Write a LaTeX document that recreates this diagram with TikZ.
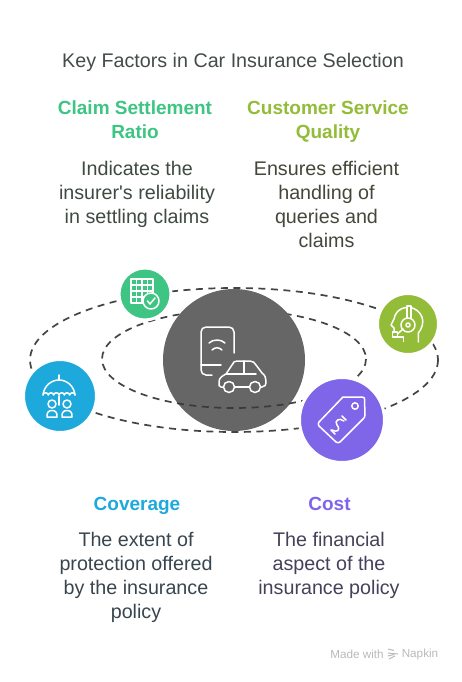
\documentclass[tikz,border=0pt]{standalone}
\usepackage{fontspec}
\setmainfont{Liberation Sans}
\definecolor{cgreen}{HTML}{3EC483}
\definecolor{colive}{HTML}{93BC39}
\definecolor{cblue}{HTML}{1EA9DC}
\definecolor{cpurple}{HTML}{7F66E8}
\definecolor{cdark}{HTML}{666666}
\definecolor{cdash}{HTML}{444444}
\definecolor{ctitle}{HTML}{444C48}
\newcommand{\fl}{\rule{0pt}{15pt}}
\tikzset{
  head/.style={font=\fontsize{19}{24}\selectfont\bfseries,align=center,inner sep=0pt,anchor=north},
  body/.style={font=\fontsize{19.7}{24}\selectfont,align=center,inner sep=0pt,anchor=north},
  orbit/.style={draw=cdash,line width=1.7pt,dash pattern=on 7pt off 5.5pt},
  disc/.style={circle,inner sep=0pt,outer sep=0pt,draw=white,line width=3pt},
  icon/.style={draw=white,line width=1.5pt,line cap=round,line join=round},
}
\begin{document}
\begin{tikzpicture}[x=1pt,y=-1pt]
\useasboundingbox (0,0) rectangle (462,682);
\fill[white] (0,0) rectangle (462,682);
\node[body,text=ctitle] (title) at (233,52) {\fl Key Factors in Car Insurance Selection};
\node[head,text=cgreen] (h1) at (135,99.5) {\fl Claim Settlement\\Ratio};
\node[head,text=colive] (h2) at (328,99.5) {\fl Customer Service\\Quality};
\node[head,text=cblue] (h3) at (137,495.5) {\fl Coverage};
\node[head,text=cpurple] (h4) at (329.5,495.5) {\fl Cost};
\node[body,text={rgb,255:red,63;green,75;blue,66}] (b1) at (137,160) {\fl Indicates the\\insurer\textquotesingle s reliability\\in settling claims};
\node[body,text={rgb,255:red,68;green,72;blue,58}] (b2) at (326.5,160) {\fl Ensures efficient\\handling of\\queries and\\claims};
\node[body,text={rgb,255:red,57;green,70;blue,80}] (b3) at (136,531.5) {\fl The extent of\\protection offered\\by the insurance\\policy};
\node[body,text={rgb,255:red,68;green,66;blue,90}] (b4) at (329,531.5) {\fl The financial\\aspect of the\\insurance policy};
% orbits
\draw[orbit] (234,360) ellipse [x radius=204,y radius=72];
\draw[orbit] (234,359) ellipse [x radius=132,y radius=49];
% centre
\node[circle,fill=cdark,minimum size=142pt,inner sep=0pt] (centre) at (234,360) {};
\begin{scope}
\clip (234,360) circle (71);
\clip (100,372) rectangle (370,440);
\draw[orbit,draw=cdash!85!black] (234,359) ellipse [x radius=132,y radius=49];
\end{scope}
% phone + car
\draw[icon,rounded corners=5pt] (234,353) -- (234,327) -- (201,327) -- (201,375) -- (212,375);
\draw[icon] (201,365) -- (221,365);
\draw[icon] (209,343) .. controls (213,339) and (221,339) .. (225,343);
\draw[icon] (212,350) .. controls (215,347) and (219,347) .. (222,350);
\draw[icon,fill=cdark] (224,387) -- (221,387) .. controls (219,387) and (218.5,385) .. (219,382) .. controls (219,378) and (222,376) .. (226,374) -- (232,365) .. controls (233,362) and (235,361) .. (237,361) -- (250,361) .. controls (253,361) and (255,363) .. (256,365) -- (262,373) .. controls (265,375) and (266,378) .. (266,381) .. controls (266,385) and (265,387) .. (262,387) -- (234,387);
\draw[icon] (226,374) -- (256,374) (244,361) -- (244,374);
\draw[icon,fill=cdark] (229,387) circle (5.5) (255,387) circle (5.5);
\draw[icon] (234.5,387) -- (249.5,387);
% green
\node[disc,fill=cgreen,minimum size=52pt] (green) at (145,294) {};
\draw[icon] (131,279) rectangle (153,303);
\foreach \v in {136.5,142,147.5} \draw[icon] (\v,279) -- (\v,303);
\foreach \v in {285,291,297} \draw[icon] (131,\v) -- (153,\v);
\draw[icon,fill=cgreen] (151,301) circle (8);
\draw[icon] (147.5,301) -- (150,304) -- (155,298);
% blue
\node[disc,fill=cblue,minimum size=73pt] (blue) at (60,396) {};
\draw[icon] (59,375) -- (59,380);
\draw[icon] (43,395) .. controls (44,386) and (51,380) .. (59,380) .. controls (67,380) and (74,386) .. (75,395);
\draw[icon] (43,395) arc (180:0:2.67 and -2.2) arc (180:0:2.67 and -2.2) arc (180:0:2.67 and -2.2) arc (180:0:2.67 and -2.2) arc (180:0:2.67 and -2.2) arc (180:0:2.67 and -2.2);
\draw[icon] (59,396) -- (59,405);
\draw[icon] (52,404) circle (4) (67,404) circle (4);
\draw[icon] (47,417) .. controls (46.5,412) and (49,410.5) .. (52,410.5) .. controls (55,410.5) and (57.5,412) .. (57,417) -- cycle;
\draw[icon] (62,417) .. controls (61.5,412) and (64,410.5) .. (67,410.5) .. controls (70,410.5) and (72.5,412) .. (72,417) -- cycle;
% olive
\node[disc,fill=colive,minimum size=61pt] (olive) at (408,324) {};
\draw[icon] (418.3,342) -- (418.3,333) .. controls (422,329) and (424,322) .. (422,317) .. controls (420,312) and (416,309) .. (411,307.5);
\draw[icon] (407,307.5) .. controls (399,308) and (395,313) .. (394,319) -- (391,325) -- (394,328) -- (394,332);
\draw[icon] (398,337) -- (403.3,337) -- (403.3,341.5);
\draw[icon] (407,318) -- (407,306) -- (411,306) -- (411,318);
\draw[icon] (408,325) circle (7);
\draw[icon] (408,325) circle (2);
\draw[icon] (403,329) -- (397.5,334);
\draw[icon] (392.3,332) rectangle (397.7,337);
% purple
\node[disc,fill=cpurple,minimum size=85pt] (purple) at (342,420) {};
\draw[icon] (343,397) -- (362,397) .. controls (364,397) and (364.5,398) .. (364.5,399) -- (365,415) .. controls (365,417) and (364,418) .. (363,419) -- (340,442) .. controls (339,443) and (337,443) .. (336,442) -- (319,426) .. controls (318,425) and (318,423) .. (319,422) -- cycle;
\draw[icon] (355,406) circle (3.2);
\draw[icon] (331,430) -- (335,434) (342,416) -- (346,420);
\draw[icon] (332,430) .. controls (337,433) and (341,430) .. (337,425) .. controls (334,421) and (339,417) .. (344,421);
% footer
\node[inner sep=0pt,font=\fontsize{11.7}{13}\selectfont,text=black!27] (made) at (357,654) {Made with};
\node[inner sep=0pt,font=\fontsize{11.7}{13}\selectfont,text=black!27] (napkin) at (420,654) {Napkin};
\draw[black!27,line width=1pt] (388,649) -- (394,650.5) (388,653) -- (398,654) (388,656) -- (394,654.5) (389,659) -- (395,656);
\end{tikzpicture}
\end{document}
